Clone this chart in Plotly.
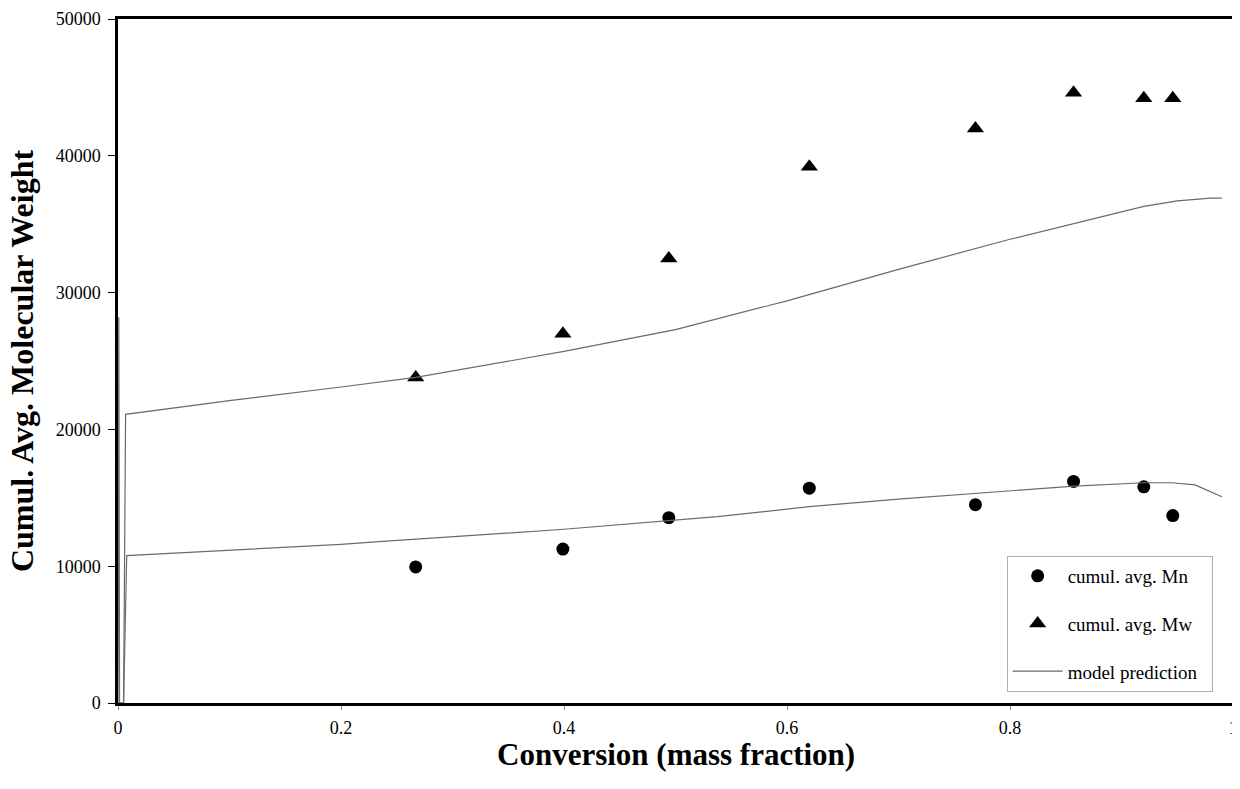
import plotly.graph_objects as go

# Measured data
conv = [0.267, 0.399, 0.494, 0.620, 0.769, 0.857, 0.920, 0.946]
mn_data = [9950, 11250, 13550, 15700, 14500, 16200, 15800, 13700]
mw_data = [23800, 27000, 32500, 39200, 42000, 44600, 44200, 44200]

# Model prediction curves
model_mw_x = [0, 0.0007, 0.0014, 0.005, 0.0068, 0.1, 0.2, 0.267, 0.4, 0.5, 0.6, 0.7, 0.8, 0.86, 0.92, 0.95, 0.98, 0.99]
model_mw_y = [0, 28200, 0, 0, 21100, 22100, 23100, 23800, 25700, 27300, 29400, 31700, 33900, 35100, 36300, 36700, 36900, 36900]
model_mn_x = [0, 0.005, 0.0078, 0.1, 0.2, 0.234, 0.4, 0.5375, 0.62, 0.7, 0.787, 0.858, 0.92, 0.945, 0.966, 0.99]
model_mn_y = [0, 0, 10770, 11150, 11600, 11790, 12700, 13620, 14350, 14900, 15400, 15860, 16100, 16100, 15940, 15080]

xticks = [0, 0.2, 0.4, 0.6, 0.8, 1]
xticktext = ["0", "0.2", "0.4", "0.6", "0.8", "1"]
yticks = [0, 10000, 20000, 30000, 40000, 50000]
yticktext = ["0", "10000", "20000", "30000", "40000", "50000"]

serif = "Liberation Serif, Times New Roman, serif"
line_color = "#6a6a6a"
pad = "\u00a0\u00a0"

fig = go.Figure()
fig.add_trace(go.Scatter(x=conv, y=mn_data, mode="markers", name="cumul. avg. Mn" + pad,
                         legendgroup="a",
                         marker=dict(symbol="circle", size=13, color="black")))
fig.add_trace(go.Scatter(x=conv, y=mw_data, mode="markers", name="cumul. avg. Mw" + pad,
                         legendgroup="b",
                         marker=dict(symbol="triangle-up", size=15, color="black")))
fig.add_trace(go.Scatter(x=model_mw_x, y=model_mw_y, mode="lines", name="model prediction" + pad,
                         legendgroup="c",
                         line=dict(color=line_color, width=1.2)))
fig.add_trace(go.Scatter(x=model_mn_x, y=model_mn_y, mode="lines", name="model prediction",
                         legendgroup="c", showlegend=False, line=dict(color=line_color, width=1.2)))

fig.update_layout(
    width=1232, height=781,
    margin=dict(l=110, r=7, t=11, b=86),
    plot_bgcolor="white", paper_bgcolor="white",
    font=dict(family=serif, size=18, color="black"),
    showlegend=True,
    legend=dict(x=0.797, y=0.215, xanchor="left", yanchor="top",
                bgcolor="white", bordercolor="#b0b0b0", borderwidth=1,
                font=dict(family=serif, size=19), traceorder="grouped",
                tracegroupgap=20, itemwidth=50),
    annotations=[
        dict(text="<b>Cumul. Avg. Molecular Weight</b>", xref="paper", yref="paper",
             x=-0.086, y=0.5, xanchor="center", yanchor="middle", textangle=-90,
             showarrow=False, font=dict(family=serif, size=32)),
        dict(text="<b>Conversion (mass fraction)</b>", xref="paper", yref="paper",
             x=0.5, y=-0.075, xanchor="center", yanchor="middle",
             showarrow=False, font=dict(family=serif, size=31)),
    ],
)
fig.update_xaxes(range=[0, 1], tickvals=xticks, ticktext=xticktext, automargin=False,
                 tickfont=dict(family=serif, size=18), ticklabelstandoff=3,
                 ticklabeloverflow="allow",
                 showgrid=False, zeroline=False, showline=True, linecolor="black", linewidth=2.5,
                 mirror=True, ticks="outside", ticklen=4, tickcolor="#888888")
fig.update_yaxes(range=[0, 50000], tickvals=yticks, ticktext=yticktext, automargin=False,
                 tickfont=dict(family=serif, size=18), ticklabelstandoff=4,
                 showgrid=False, zeroline=False, showline=True, linecolor="black", linewidth=2.5,
                 mirror=True, ticks="outside", ticklen=7, tickcolor="black")

fig.write_html("out.html")
